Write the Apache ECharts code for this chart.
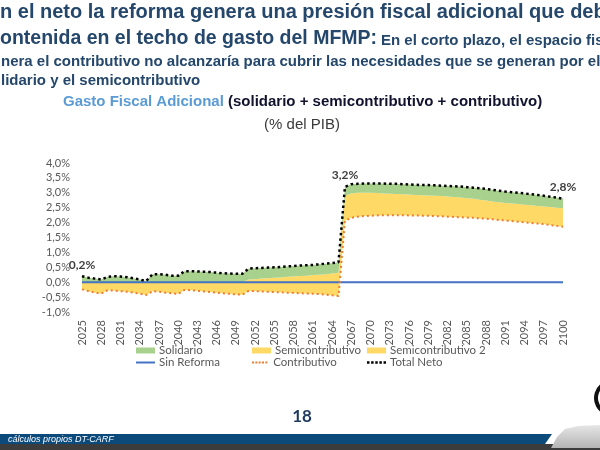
<!DOCTYPE html>
<html><head><meta charset="utf-8">
<script src="https://cdn.jsdelivr.net/npm/echarts@6/dist/echarts.min.js"></script>
<style>html,body{margin:0;padding:0;background:#fff;overflow:hidden}#c{width:600px;height:450px}</style>
</head><body><div id="c"></div>
<script>
const years = ['2025','2026','2027','2028','2029','2030','2031','2032','2033','2034','2035','2036','2037','2038','2039','2040','2041','2042','2043','2044','2045','2046','2047','2048','2049','2050','2051','2052','2053','2054','2055','2056','2057','2058','2059','2060','2061','2062','2063','2064','2065','2066','2067','2068','2069','2070','2071','2072','2073','2074','2075','2076','2077','2078','2079','2080','2081','2082','2083','2084','2085','2086','2087','2088','2089','2090','2091','2092','2093','2094','2095','2096','2097','2098','2099','2100'];

const contributivo = [-0.24,-0.30,-0.35,-0.38,-0.27,-0.28,-0.30,-0.32,-0.35,-0.38,-0.43,-0.30,-0.32,-0.35,-0.37,-0.39,-0.26,-0.27,-0.29,-0.31,-0.33,-0.35,-0.37,-0.39,-0.41,-0.42,
 -0.29,-0.30,-0.31,-0.32,-0.33,-0.34,-0.35,-0.36,-0.37,-0.38,-0.39,-0.40,-0.42,-0.44,-0.46,
 2.06,2.16,2.20,2.22,2.23,2.24,2.25,2.25,2.25,2.25,2.24,2.24,2.23,2.23,2.22,2.21,2.20,2.19,2.18,2.17,2.16,2.14,2.13,2.11,2.09,2.07,2.05,2.03,2.01,1.99,1.97,1.95,1.92,1.89,1.86];

const semicontributivo = [0.24,0.30,0.35,0.38,0.27,0.28,0.30,0.32,0.35,0.38,0.43,0.30,0.32,0.35,0.37,0.39,0.26,0.27,0.29,0.31,0.33,0.35,0.37,0.39,0.41,0.42,
 0.38,0.40,0.43,0.45,0.48,0.50,0.53,0.55,0.58,0.60,0.63,0.65,0.69,0.73,0.78,
 0.84,0.82,0.80,0.78,0.77,0.75,0.73,0.72,0.71,0.70,0.70,0.69,0.69,0.68,0.68,0.68,0.68,0.67,0.66,0.65,0.64,0.63,0.61,0.60,0.59,0.59,0.59,0.59,0.59,0.59,0.59,0.59,0.60,0.61,0.62];

const solidario = [0.20,0.15,0.12,0.09,0.18,0.20,0.19,0.17,0.13,0.09,0.04,0.27,0.27,0.25,0.22,0.22,0.37,0.37,0.36,0.35,0.34,0.32,0.30,0.29,0.28,0.28,
 0.37,0.37,0.36,0.36,0.35,0.35,0.35,0.35,0.35,0.35,0.34,0.35,0.35,0.35,0.35,
 0.30,0.31,0.30,0.31,0.31,0.32,0.33,0.33,0.34,0.34,0.34,0.34,0.34,0.35,0.35,0.35,0.35,0.36,0.37,0.37,0.37,0.38,0.39,0.39,0.39,0.38,0.38,0.38,0.38,0.37,0.37,0.36,0.35,0.34,0.32];

const totalNeto = [0.20,0.15,0.12,0.09,0.18,0.20,0.19,0.17,0.13,0.09,0.04,0.27,0.27,0.25,0.22,0.22,0.37,0.37,0.36,0.35,0.34,0.32,0.30,0.29,0.28,0.28,
 0.46,0.47,0.48,0.49,0.50,0.51,0.53,0.54,0.56,0.57,0.58,0.60,0.62,0.64,0.67,
 3.20,3.29,3.30,3.31,3.31,3.31,3.31,3.30,3.30,3.29,3.28,3.27,3.26,3.26,3.25,3.24,3.23,3.22,3.21,3.19,3.17,3.15,3.13,3.10,3.07,3.04,3.02,3.00,2.98,2.95,2.93,2.90,2.87,2.84,2.80];

const sinReforma = [0,0,0,0,0,0,0,0,0,0,0,0,0,0,0,0,0,0,0,0,0,0,0,0,0,0,0,0,0,0,0,0,0,0,0,0,0,0,0,0,0,0,0,0,0,0,0,0,0,0,0,0,0,0,0,0,0,0,0,0,0,0,0,0,0,0,0,0,0,0,0,0,0,0,0,0];

const labeledYears = ['2025','2066','2100'];

const pct = v => v.toFixed(1).replace('.', ',') + '%';
const calib = 'Lato';
const navy = '#24476B';

const totalData = totalNeto.map((v, i) => labeledYears.includes(years[i])
  ? {value: v, symbol: 'circle', symbolSize: 0.5, label: {show: true}}
  : v);

const dotIcon = 'path://M0,0h3v3h-3z M5,0h3v3h-3z M10,0h3v3h-3z M15,0h3v3h-3z M20,0h3v3h-3z';
const legendBase = {itemWidth: 19, itemHeight: 6, padding: 0, itemGap: 0,
  textStyle: {fontFamily: calib, fontSize: 11.5, color: '#595959', padding: [0,0,0,-1]}};
const lg = (name, left, top, icon, h) => Object.assign({}, legendBase,
  {left: left, top: top, itemHeight: h || 6, data: [{name: name, icon: icon}]});

const chart = echarts.init(document.getElementById('c'), null, {renderer: 'canvas'});
chart.setOption({
  backgroundColor: '#ffffff',
  animation: false,
  grid: {left: 82, right: 37, top: 163, bottom: 138},
  xAxis: {
    type: 'category', data: years, boundaryGap: false,
    axisLine: {show: false, onZero: false}, axisTick: {show: false},
    axisLabel: {interval: 2, rotate: 90, margin: 8, fontSize: 11, color: '#595959', fontFamily: calib}
  },
  yAxis: {
    type: 'value', min: -1, max: 4, interval: 0.5,
    splitLine: {show: false}, axisLine: {show: false}, axisTick: {show: false},
    axisLabel: {formatter: pct, fontSize: 11, color: '#595959', fontFamily: calib, margin: 12}
  },
  legend: [
    lg('Solidario', 136, 344.5, 'rect'),
    lg('Semicontributivo', 252, 344.5, 'rect'),
    lg('Semicontributivo 2', 367, 344.5, 'rect'),
    lg('Sin Reforma', 136, 356.5, 'rect', 2),
    lg('Contributivo', 252, 356.5, dotIcon, 2),
    lg('Total Neto', 367, 356.5, dotIcon, 2.5)
  ],
  series: [
    {name: 'Contributivo', type: 'line', stack: 'neto', stackStrategy: 'all', data: contributivo,
     symbol: 'none', color: '#ED7D31', z: 4,
     lineStyle: {color: '#ED7D31', width: 2, type: [2, 3]}},
    {name: 'Semicontributivo', type: 'line', stack: 'neto', stackStrategy: 'all', data: semicontributivo,
     symbol: 'none', color: '#FFD966', z: 2, lineStyle: {width: 0},
     areaStyle: {color: '#FFD966', opacity: 1}},
    {name: 'Solidario', type: 'line', stack: 'neto', stackStrategy: 'all', data: solidario,
     symbol: 'none', color: '#A9D18E', z: 2, lineStyle: {width: 0},
     areaStyle: {color: '#A9D18E', opacity: 1}},
    {name: 'Semicontributivo 2', type: 'line', data: [], symbol: 'none', color: '#FFD966'},
    {name: 'Sin Reforma', type: 'line', data: sinReforma, symbol: 'none', color: '#4472C4', z: 3,
     lineStyle: {color: '#4472C4', width: 2}},
    {name: 'Total Neto', type: 'line', data: totalData, symbol: 'none', showAllSymbol: true,
     color: '#000000', z: 5,
     lineStyle: {color: '#000000', width: 2.5, type: [2.5, 3]},
     label: {show: false, position: 'top', distance: 5, formatter: p => pct(p.value),
       fontFamily: calib, fontSize: 12, fontWeight: 'bold', color: '#404040'}}
  ],
  graphic: [
    {type: 'text', x: 0, y: 12.5, style: {text: 'n el neto la reforma genera una presión fiscal adicional que deb',
      font: 'bold 20px "Liberation Sans", Arial, sans-serif', fill: navy, align: 'left', verticalAlign: 'middle'}},
    {type: 'text', x: 0, y: 39, style: {text: 'ontenida en el techo de gasto del MFMP:',
      font: 'bold 19.5px "Liberation Sans", Arial, sans-serif', fill: navy, align: 'left', verticalAlign: 'middle'}},
    {type: 'text', x: 381, y: 40.5, style: {text: 'En el corto plazo, el espacio fis',
      font: 'bold 15px "Liberation Sans", Arial, sans-serif', fill: navy, align: 'left', verticalAlign: 'middle'}},
    {type: 'text', x: 1, y: 61.5, style: {text: 'nera el contributivo no alcanzaría para cubrir las necesidades que se generan por el',
      font: 'bold 15px "Liberation Sans", Arial, sans-serif', fill: navy, align: 'left', verticalAlign: 'middle'}},
    {type: 'text', x: 1, y: 81, style: {text: 'lidario y el semicontributivo',
      font: 'bold 15px "Liberation Sans", Arial, sans-serif', fill: navy, align: 'left', verticalAlign: 'middle'}},
    {type: 'text', x: 63, y: 102, style: {text: 'Gasto Fiscal Adicional',
      font: 'bold 15px "Liberation Sans", Arial, sans-serif', fill: '#5B9BD5', align: 'left', verticalAlign: 'middle'}},
    {type: 'text', x: 228, y: 102, style: {text: '(solidario + semicontributivo + contributivo)',
      font: 'bold 15px "Liberation Sans", Arial, sans-serif', fill: '#10122E', align: 'left', verticalAlign: 'middle'}},
    {type: 'text', x: 302, y: 125, style: {text: '(% del PIB)',
      font: '15px "Liberation Sans", Arial, sans-serif', fill: '#3A3A3A', align: 'center', verticalAlign: 'middle'}},
    {type: 'text', x: 302, y: 417, style: {text: '18',
      font: 'bold 17px Lato, sans-serif', fill: '#1F3A5F', align: 'center', verticalAlign: 'middle'}},
    {type: 'rect', shape: {x: 0, y: 444, width: 600, height: 6}, style: {fill: '#3C3C3C'}},
    {type: 'polygon', shape: {points: [[0, 434], [552, 434], [545, 444], [0, 444]]}, style: {fill: '#0D4A7C'}},
    {type: 'polygon', shape: {points: [[551, 448], [557, 437], [565, 429], [578, 426], [600, 425], [600, 448]]},
     style: {fill: new echarts.graphic.LinearGradient(0, 0, 0, 1, [{offset: 0, color: '#E6E6E6'}, {offset: 1, color: '#B5B5B5'}])}},
    {type: 'text', x: 8, y: 439.5, style: {text: 'cálculos propios DT-CARF',
      font: 'italic 9px "Liberation Sans", Arial, sans-serif', fill: '#FFFFFF', align: 'left', verticalAlign: 'middle'}},
    {type: 'arc', shape: {cx: 612, cy: 398, r: 16, startAngle: Math.PI * 0.6, endAngle: Math.PI * 1.4},
     style: {stroke: '#111111', lineWidth: 4, fill: null}}
  ]
});
</script>
</body></html>
